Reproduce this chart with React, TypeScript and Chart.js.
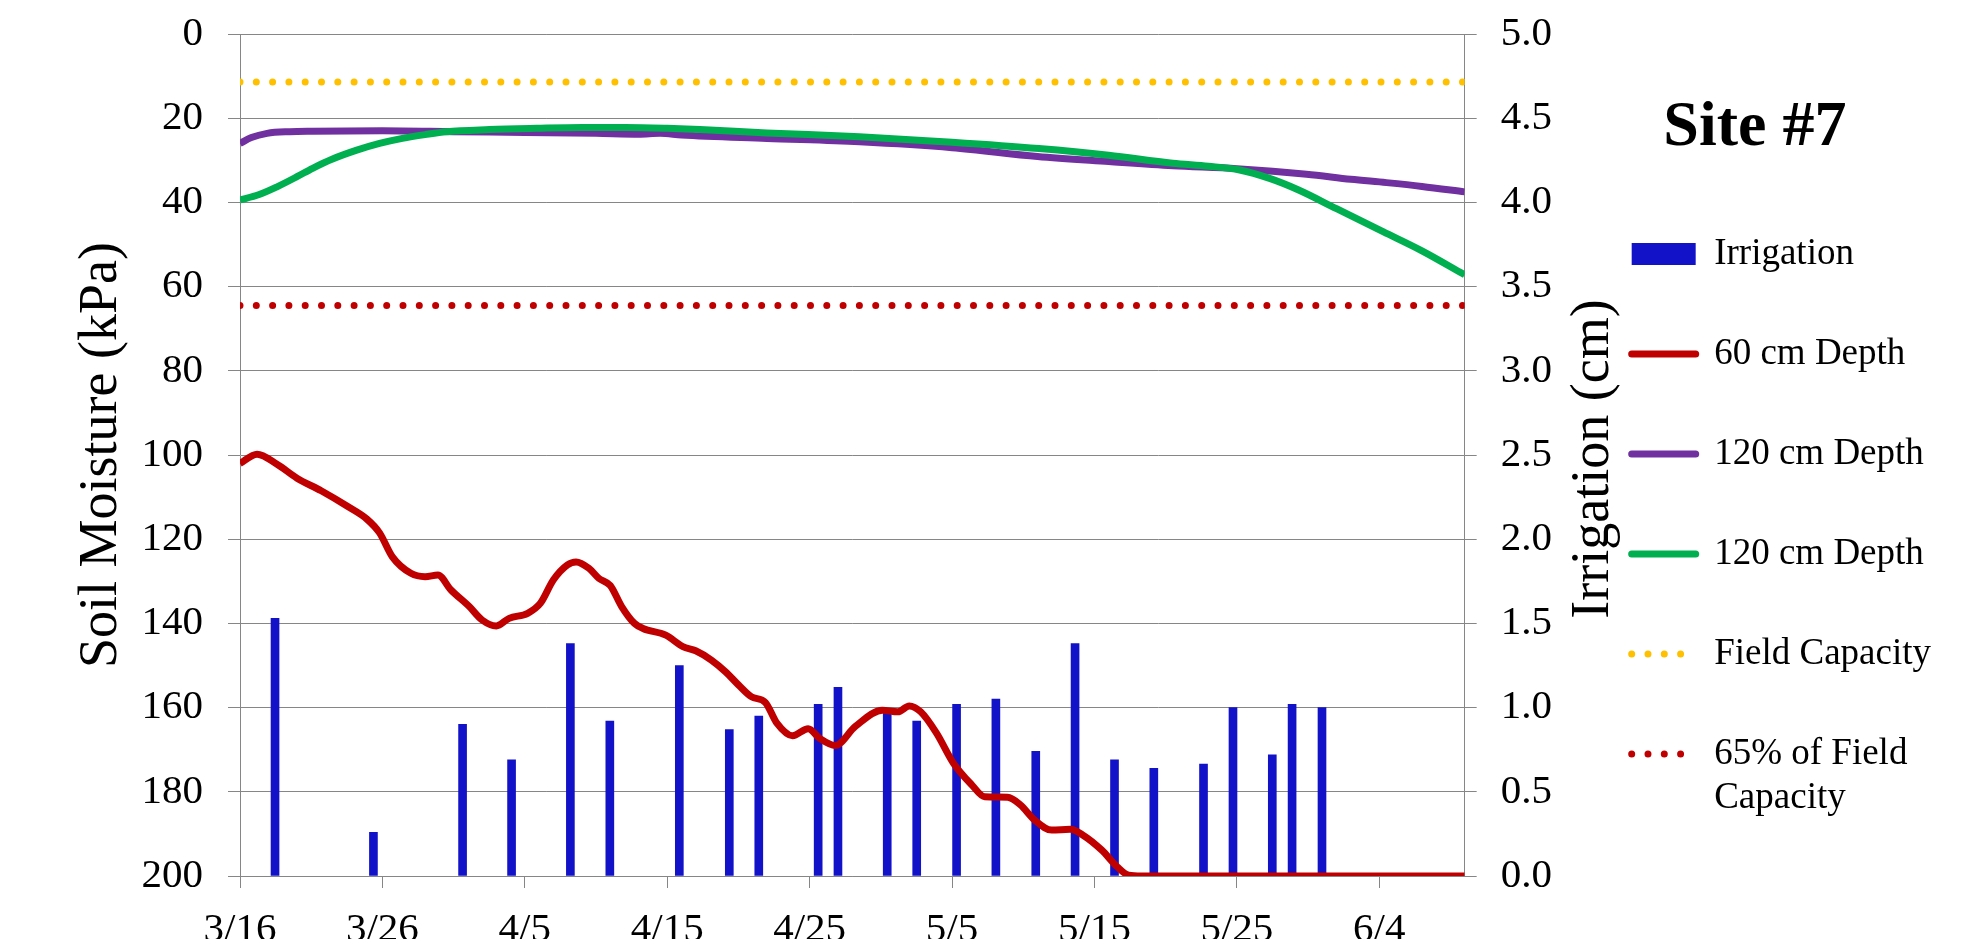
import React, { useEffect, useRef } from 'react';
import { Chart, registerables } from 'chart.js';

Chart.register(...registerables);

const FONT = "'Times New Roman', 'Liberation Serif', Times, serif";

// X axis: days since 3/16
const dayMax = 86;
const dayTicks = [0, 10, 20, 30, 40, 50, 60, 70, 80];
const dayTickLabels = ['3/16', '3/26', '4/5', '4/15', '4/25', '5/5', '5/15', '5/25', '6/4'];

// Left axis (kPa, reversed) and right axis (cm)
const kpaTicksStep = 20;
const cmTicksStep = 0.5;

// Irrigation events (cm)
const irrigationDays = [2.46, 9.37, 15.63, 19.07, 23.2, 25.97, 30.85, 34.36, 36.43, 40.6, 41.99, 45.45, 47.52, 50.32, 53.08, 55.88, 58.64, 61.41, 64.17, 67.66, 69.73, 72.49, 73.88, 75.98];
const irrigationCm = [1.53, 0.26, 0.9, 0.69, 1.38, 0.92, 1.25, 0.87, 0.95, 1.02, 1.12, 0.97, 0.92, 1.02, 1.05, 0.74, 1.38, 0.69, 0.64, 0.665, 1.0, 0.72, 1.02, 1.0];

// 60 cm depth (kPa)
const depth60Days = [0, 1.2, 2.6, 4, 5.7, 7.6, 8.9, 9.8, 10.7, 12, 13, 13.9, 14.8, 16.1, 17, 18, 18.9, 20.2, 21.1, 22, 23, 23.6, 24.5, 25.2, 26, 26.8, 27.7, 28.3, 29.9, 31.1, 32, 33.1, 34.1, 35, 35.9, 36.9, 37.7, 38.8, 39.9, 40.7, 41.8, 43.2, 45.1, 46.2, 47, 47.8, 48.9, 50.1, 51.4, 52.3, 53.9, 54.8, 55.8, 57, 58.3, 59.2, 60.5, 61.6, 62.4, 63.3, 86];
const depth60Kpa = [102, 99.8, 102.2, 105.5, 108.5, 112.3, 115.2, 118.5, 124.2, 128.1, 128.9, 128.5, 132, 136, 139.2, 140.6, 138.8, 137.6, 135.2, 129.7, 126.1, 125.4, 126.9, 129.3, 131, 136, 140, 141.2, 142.8, 145.5, 146.5, 148.7, 151.5, 154.6, 157.4, 158.8, 163.7, 166.7, 165, 167.3, 169, 164.5, 160.6, 161, 159.6, 161, 166, 173.2, 178.4, 181.2, 181.3, 183.1, 186.7, 189.1, 188.9, 190.3, 193.8, 197.8, 199.8, 200, 200];

// 120 cm depth, sensor A (purple)
const depth120aDays = [0, 0.8, 1.9, 3.5, 5.1, 10, 15, 20, 25, 28, 29.5, 31, 37, 43.5, 50, 56, 61, 65.5, 70, 74.9, 78, 80.5, 83, 86];
const depth120aKpa = [26, 24.6, 23.6, 23.2, 23.1, 23.0, 23.2, 23.4, 23.6, 23.8, 23.6, 24.0, 24.8, 25.6, 27.0, 29.1, 30.3, 31.3, 32.0, 33.3, 34.5, 35.3, 36.2, 37.5];

// 120 cm depth, sensor B (green)
const depth120bDays = [0, 1.3, 2.6, 4, 5.1, 6.5, 8.2, 9.8, 11.4, 13, 14.5, 17.5, 20.8, 24, 27.1, 30, 32.3, 37, 43.5, 50, 56.1, 61, 65.5, 68, 70.2, 72.3, 74.3, 77, 80.3, 83, 86];
const depth120bKpa = [39.4, 38.2, 36.3, 33.9, 31.9, 29.7, 27.6, 26.0, 24.8, 23.9, 23.2, 22.7, 22.4, 22.2, 22.2, 22.4, 22.7, 23.5, 24.4, 25.7, 27.2, 28.8, 30.7, 31.4, 32.3, 34.3, 37.0, 41.5, 47.0, 51.5, 57.2];

// Reference levels (kPa)
const fieldCapacityKpa = 11.4;
const fc65Kpa = 64.5;

const legendTexts: (string | string[])[] = ['Irrigation', '60 cm Depth', '120 cm Depth', '120 cm Depth', 'Field Capacity', ['65% of Field', 'Capacity']];
const leftTitle = 'Soil Moisture (kPa)';
const rightTitle = 'Irrigation (cm)';
const siteTitle = 'Site #7';

const pts = (xs: number[], ys: number[]) => xs.map((x, i) => ({ x, y: ys[i] }));

const GRID = '#868686';

const clearPad = (s: any) => {
  s.paddingTop = 0;
  s.paddingBottom = 0;
  s.paddingLeft = 0;
  s.paddingRight = 0;
};

const rightTitlePlugin = {
  id: 'rightTitle',
  afterDraw(chart: any) {
    const s = chart.scales.y2;
    const ctx = chart.ctx;
    ctx.save();
    ctx.translate(s.right + 25, (chart.chartArea.top + chart.chartArea.bottom) / 2 + 4);
    ctx.rotate(-Math.PI / 2);
    ctx.font = `54px ${FONT}`;
    ctx.fillStyle = '#000';
    ctx.textAlign = 'center';
    ctx.textBaseline = 'middle';
    ctx.fillText(rightTitle, 0, 0);
    ctx.restore();
  },
};

export default function App() {
  const ref = useRef<HTMLCanvasElement | null>(null);
  useEffect(() => {
    document.body.style.margin = '0';
    const canvas = ref.current;
    if (!canvas) return;
    const dotted = [0, 16.3];
    const chart = new Chart(canvas, {
      type: 'line',
      data: {
        datasets: [
          {
            type: 'bar',
            label: 'Irrigation',
            data: pts(irrigationDays, irrigationCm),
            yAxisID: 'y2',
            xAxisID: 'x',
            backgroundColor: '#1212C8',
            borderColor: '#1212C8',
            borderWidth: 0,
            barThickness: 8,
            order: 5,
          } as any,
          {
            label: '60 cm Depth',
            data: pts(depth60Days, depth60Kpa),
            yAxisID: 'y',
            borderColor: '#C00000',
            backgroundColor: '#C00000',
            borderWidth: 7,
            pointRadius: 0,
            cubicInterpolationMode: 'monotone',
            borderJoinStyle: 'round',
            order: 2,
          },
          {
            label: '120 cm Depth',
            data: pts(depth120aDays, depth120aKpa),
            yAxisID: 'y',
            borderColor: '#7030A0',
            backgroundColor: '#7030A0',
            borderWidth: 7,
            pointRadius: 0,
            cubicInterpolationMode: 'monotone',
            borderJoinStyle: 'round',
            order: 1,
          },
          {
            label: '120 cm Depth ',
            data: pts(depth120bDays, depth120bKpa),
            yAxisID: 'y',
            borderColor: '#00B050',
            backgroundColor: '#00B050',
            borderWidth: 7,
            pointRadius: 0,
            cubicInterpolationMode: 'monotone',
            borderJoinStyle: 'round',
            order: 0,
          },
          {
            label: 'Field Capacity',
            data: [{ x: 0, y: fieldCapacityKpa }, { x: dayMax, y: fieldCapacityKpa }],
            yAxisID: 'y',
            borderColor: '#FFC000',
            backgroundColor: '#FFC000',
            borderWidth: 7,
            borderDash: dotted,
            borderCapStyle: 'round',
            pointRadius: 0,
            order: 3,
          },
          {
            label: '65% of Field Capacity',
            data: [{ x: 0, y: fc65Kpa }, { x: dayMax, y: fc65Kpa }],
            yAxisID: 'y',
            borderColor: '#C00000',
            backgroundColor: '#C00000',
            borderWidth: 7,
            borderDash: dotted,
            borderCapStyle: 'round',
            pointRadius: 0,
            order: 4,
          },
        ],
      },
      options: {
        animation: false,
        responsive: false,
        devicePixelRatio: 1,
        layout: { padding: { top: 34, right: 30, left: 0, bottom: 0 } },
        plugins: {
          tooltip: { enabled: false },
          legend: {
            display: true,
            position: 'right',
            align: 'start',
            maxWidth: 380,
            title: {
              display: true,
              text: siteTitle,
              color: '#000',
              position: 'center',
              font: { family: FONT, size: 64, weight: 'bold', lineHeight: 1 },
              padding: { top: 62, bottom: 12.5 },
            },
            labels: {
              color: '#000',
              font: { family: FONT, size: 37 },
              usePointStyle: true,
              pointStyleWidth: 64,
              boxHeight: 22,
              padding: 63,
              generateLabels: (ch: any) =>
                ch.data.datasets.map((ds: any, i: number) => ({
                  text: legendTexts[i],
                  fillStyle: ds.backgroundColor,
                  strokeStyle: ds.borderColor,
                  lineWidth: ds.type === 'bar' ? 0 : 7,
                  lineCap: 'round',
                  lineDash: ds.borderDash || [],
                  pointStyle: ds.type === 'bar' ? 'rect' : 'line',
                  hidden: false,
                  datasetIndex: i,
                  fontColor: '#000',
                })),
            },
          },
        },
        scales: {
          x: {
            type: 'linear',
            position: 'bottom',
            min: 0,
            max: dayMax,
            offset: false,
            afterBuildTicks: (s: any) => {
              s.ticks = dayTicks.map((v) => ({ value: v }));
            },
            afterFit: (s: any) => {
              s.height = 63;
              clearPad(s);
            },
            ticks: {
              autoSkip: false,
              maxRotation: 0,
              color: '#000',
              padding: 18,
              font: { family: FONT, size: 41 },
              callback: (v: any) => {
                const i = dayTicks.indexOf(Number(v));
                return i >= 0 ? dayTickLabels[i] : '';
              },
            },
            grid: { display: true, drawOnChartArea: false, drawTicks: true, tickLength: 12, color: GRID, offset: false },
            border: { display: true, color: GRID, width: 1 },
          },
          y: {
            type: 'linear',
            position: 'left',
            reverse: true,
            min: 0,
            max: 200,
            afterFit: (s: any) => {
              s.width = 240;
              clearPad(s);
            },
            ticks: { stepSize: kpaTicksStep, color: '#000', padding: 25, font: { family: FONT, size: 41 } },
            grid: { color: GRID, lineWidth: 1, drawTicks: true, tickLength: 12 },
            border: { display: true, color: GRID, width: 1 },
            title: {
              display: true,
              text: leftTitle,
              color: '#000',
              font: { family: FONT, size: 54, lineHeight: 1 },
              padding: { top: 75, bottom: 0 },
            },
          },
          y2: {
            type: 'linear',
            position: 'right',
            min: 0,
            max: 5,
            afterFit: (s: any) => {
              s.width = 104;
              clearPad(s);
            },
            ticks: {
              stepSize: cmTicksStep,
              color: '#000',
              padding: 24,
              font: { family: FONT, size: 41 },
              callback: (v: any) => Number(v).toFixed(1),
            },
            grid: { drawOnChartArea: false, drawTicks: true, tickLength: 12, color: GRID },
            border: { display: true, color: GRID, width: 1 },
          },
        },
      } as any,
      plugins: [rightTitlePlugin],
    });
    return () => chart.destroy();
  }, []);
  return (
    <div style={{ width: 1971, height: 939, position: 'relative', background: '#fff' }}>
      <canvas ref={ref} width={1971} height={939} style={{ display: 'block' }} />
    </div>
  );
}
